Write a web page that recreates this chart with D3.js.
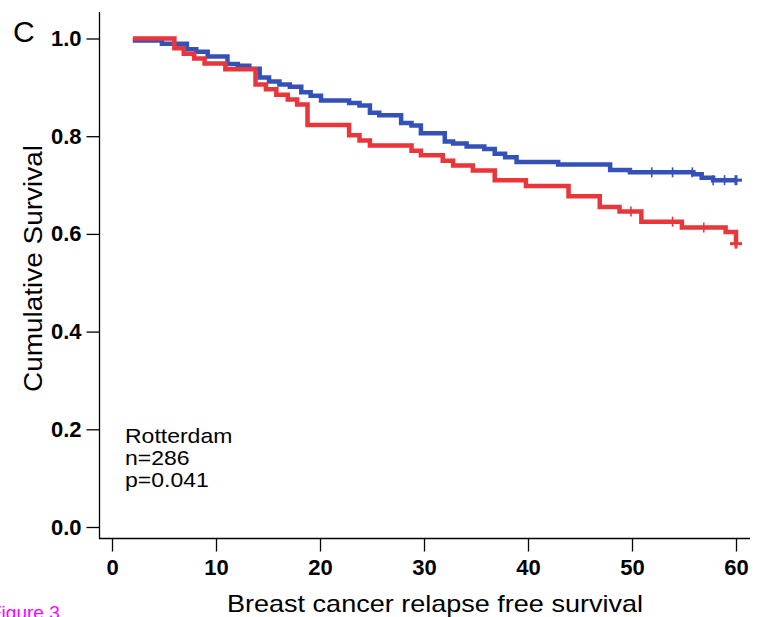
<!DOCTYPE html>
<html>
<head>
<meta charset="utf-8">
<title>Cumulative Survival - Rotterdam</title>
<script src="https://d3js.org/d3.v7.min.js"></script>
<style>
  body { margin: 0; background: #fff; }
  svg { display: block; font-family: "Liberation Sans", Arial, sans-serif; }
</style>
</head>
<body>
<div id="chart"></div>
<script>
// Kaplan-Meier steps: time (months) and survival after each step
const blueTimes = [2.0, 4.8, 7.2, 8.1, 9.2, 11.1, 12.1, 13.2, 14.2, 15.1, 16.1, 17.1, 18.2, 19.1, 20.1,
                   22.8, 23.8, 24.8, 25.7, 27.8, 28.8, 29.7, 32.0, 32.8, 34.1, 35.8, 36.8, 37.8, 38.9,
                   42.9, 47.9, 49.8, 55.9, 56.7, 57.8, 60.0];
const blueSurv  = [0.996, 0.989, 0.978, 0.973, 0.963, 0.948, 0.944, 0.938, 0.920, 0.912, 0.906, 0.901, 0.890, 0.883, 0.873,
                   0.868, 0.863, 0.848, 0.843, 0.827, 0.822, 0.806, 0.789, 0.785, 0.779, 0.774, 0.764, 0.757, 0.747,
                   0.742, 0.731, 0.726, 0.722, 0.715, 0.710, 0.710];
const redTimes  = [2.0, 6.0, 6.9, 7.9, 8.9, 10.9, 13.8, 14.8, 15.8, 16.9, 17.8, 18.8, 22.8, 23.8, 24.8,
                   28.8, 29.7, 31.8, 32.8, 34.7, 36.8, 39.8, 43.9, 46.9, 48.8, 50.9, 54.8, 59.0, 60.0];
const redSurv   = [1.000, 0.980, 0.969, 0.959, 0.949, 0.937, 0.906, 0.896, 0.885, 0.875, 0.865, 0.823, 0.802, 0.791, 0.781,
                   0.770, 0.761, 0.750, 0.740, 0.730, 0.710, 0.698, 0.677, 0.655, 0.646, 0.625, 0.613, 0.604, 0.580];
const blueCensor = [51.9, 53.9, 55.8, 57.8, 58.9];
const redCensor  = [49.9, 53.9, 56.9];

const xTicks = [0, 10, 20, 30, 40, 50, 60];
const yTicks = [0, 0.2, 0.4, 0.6, 0.8, 1.0];
const infoLines = ["Rotterdam", "n=286", "p=0.041"];

const width = 759, height = 617;
const blue = "#3451b7", red = "#e8363a";

const svg = d3.select("#chart").append("svg")
    .attr("width", width)
    .attr("height", height);

const x = d3.scaleLinear().domain([0, 60]).range([112, 736]);
const y = d3.scaleLinear().domain([0, 1]).range([527, 38.5]);

// axis lines (extend a bit past the data range like the original)
svg.append("line")
    .attr("x1", 99.5).attr("x2", 99.5).attr("y1", 12).attr("y2", 539)
    .attr("stroke", "#000").attr("stroke-width", 1.3);
svg.append("line")
    .attr("x1", 99).attr("x2", 750).attr("y1", 538.5).attr("y2", 538.5)
    .attr("stroke", "#000").attr("stroke-width", 1.3);

const yAxis = svg.append("g")
    .attr("transform", "translate(99.5,0)")
    .call(d3.axisLeft(y).tickValues(yTicks).tickSize(13).tickPadding(5).tickFormat(d3.format(".1f")));
yAxis.select(".domain").remove();
yAxis.selectAll("line").attr("stroke-width", 1.3);
yAxis.selectAll("text")
    .attr("font-size", 22).attr("font-weight", "bold")
    .attr("font-family", "Liberation Sans, Arial, sans-serif").attr("fill", "#000");

const xAxis = svg.append("g")
    .attr("transform", "translate(0,538.5)")
    .call(d3.axisBottom(x).tickValues(xTicks).tickSize(13).tickPadding(8).tickFormat(d3.format("d")));
xAxis.select(".domain").remove();
xAxis.selectAll("line").attr("stroke-width", 1.3);
xAxis.selectAll("text")
    .attr("font-size", 22).attr("font-weight", "bold")
    .attr("font-family", "Liberation Sans, Arial, sans-serif").attr("fill", "#000");

// curves
const step = d3.line()
    .x(d => x(d[0]))
    .y(d => y(d[1]))
    .curve(d3.curveStepAfter);

function survAt(times, surv, t) {
    let s = surv[0];
    times.forEach((tt, i) => { if (tt <= t) s = surv[i]; });
    return s;
}

function drawGroup(times, surv, censor, color) {
    const pts = times.map((t, i) => [t, surv[i]]);
    svg.append("path")
        .attr("d", step(pts))
        .attr("fill", "none")
        .attr("stroke", color)
        .attr("stroke-width", 4.5)
        .attr("stroke-linejoin", "miter");
    svg.selectAll(null)
        .data(censor)
        .enter().append("line")
        .attr("x1", d => x(d)).attr("x2", d => x(d))
        .attr("y1", d => y(survAt(times, surv, d)) - 5)
        .attr("y2", d => y(survAt(times, surv, d)) + 5)
        .attr("stroke", color).attr("stroke-width", 1.6);
    // final censored point drawn as a heavy plus
    const tEnd = times[times.length - 1], sEnd = surv[surv.length - 1];
    svg.append("line")
        .attr("x1", x(tEnd) - 6).attr("x2", x(tEnd) + 6)
        .attr("y1", y(sEnd)).attr("y2", y(sEnd))
        .attr("stroke", color).attr("stroke-width", 3);
    svg.append("line")
        .attr("x1", x(tEnd)).attr("x2", x(tEnd))
        .attr("y1", y(sEnd) - 5).attr("y2", y(sEnd) + 5)
        .attr("stroke", color).attr("stroke-width", 3);
}

drawGroup(blueTimes, blueSurv, blueCensor, blue);
drawGroup(redTimes, redSurv, redCensor, red);

// titles
svg.append("text")
    .attr("transform", "translate(42,268.5) rotate(-90)")
    .attr("text-anchor", "middle")
    .attr("font-size", 26)
    .attr("textLength", 247).attr("lengthAdjust", "spacingAndGlyphs")
    .text("Cumulative Survival");

svg.append("text")
    .attr("x", 227).attr("y", 611.5)
    .attr("font-size", 24)
    .attr("textLength", 416).attr("lengthAdjust", "spacingAndGlyphs")
    .text("Breast cancer relapse free survival");

svg.append("text")
    .attr("x", 13).attr("y", 42)
    .attr("font-size", 30)
    .text("C");

const info = svg.append("g").attr("transform", "translate(125,0) scale(1.15,1)");
info.selectAll("text")
    .data(infoLines)
    .enter().append("text")
    .attr("x", 0)
    .attr("y", (d, i) => 443.5 + i * 21.7)
    .attr("font-size", 20)
    .text(d => d);

// page caption, clipped at the corner in the original too
svg.append("text")
    .attr("x", -10).attr("y", 619)
    .attr("font-size", 19)
    .attr("fill", "#ff00ff")
    .text("Figure 3");
</script>
</body>
</html>
